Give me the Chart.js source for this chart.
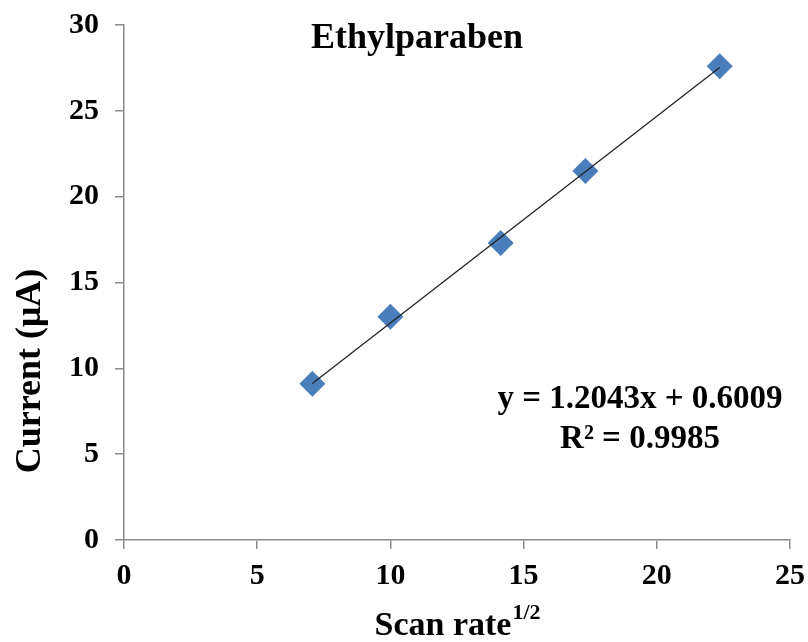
<!DOCTYPE html>
<html>
<head>
<meta charset="utf-8">
<script src="https://cdn.jsdelivr.net/npm/chart.js@4"></script>
<style>
  html, body { margin: 0; padding: 0; background: #fff; }
  #wrap { width: 808px; height: 642px; }
</style>
</head>
<body>
<div id="wrap"><canvas id="chart" width="808" height="642"></canvas></div>
<script>
// square root of scan rate vs. peak current
const scanRootX = [7.07, 10.0, 14.14, 17.32, 22.36];
const currentY = [9.1, 13.0, 17.3, 21.5, 27.6];

// least-squares fit as printed on the chart
const fitSlope = 1.2043;
const fitIntercept = 0.6009;
const fitR2 = 0.9985;

const xTicks = [0, 5, 10, 15, 20, 25];
const yTicks = [0, 5, 10, 15, 20, 25, 30];

const serif = "'Liberation Serif', 'Times New Roman', serif";
const axisGray = '#8a8a8a';

const points = scanRootX.map((x, i) => ({ x, y: currentY[i] }));
const xMin = Math.min(...scanRootX), xMax = Math.max(...scanRootX);
const fitLine = [xMin, xMax].map(x => ({ x, y: fitSlope * x + fitIntercept }));

const textPlugin = {
  id: 'labels',
  afterDraw(chart) {
    const { ctx, chartArea: a } = chart;
    ctx.save();
    ctx.fillStyle = '#000';
    ctx.textAlign = 'center';
    ctx.textBaseline = 'alphabetic';

    // chart title
    ctx.font = `bold 36px ${serif}`;
    ctx.fillText('Ethylparaben', 417, 48);

    // fit equation
    ctx.font = `bold 33px ${serif}`;
    ctx.fillText(`y = ${fitSlope}x + ${fitIntercept}`, 640, 408);
    ctx.fillText(`R² = ${fitR2}`, 640, 448);

    // x axis title with superscript
    ctx.textAlign = 'left';
    const main = 'Scan rate';
    ctx.font = `bold 34px ${serif}`;
    const wMain = ctx.measureText(main).width;
    ctx.font = `bold 22px ${serif}`;
    const wSup = ctx.measureText('1/2').width;
    const x0 = (a.left + a.right) / 2 - (wMain + wSup) / 2;
    ctx.font = `bold 34px ${serif}`;
    ctx.fillText(main, x0, 635);
    ctx.font = `bold 22px ${serif}`;
    ctx.fillText('1/2', x0 + wMain + 1, 619);

    // y axis title
    ctx.translate(40, 371);
    ctx.rotate(-Math.PI / 2);
    ctx.textAlign = 'center';
    ctx.font = `bold 36px ${serif}`;
    ctx.fillText('Current (μA)', 0, 0);
    ctx.restore();
  }
};

new Chart(document.getElementById('chart'), {
  type: 'scatter',
  data: {
    datasets: [
      {
        type: 'line',
        label: 'Linear fit',
        data: fitLine,
        borderColor: '#222',
        borderWidth: 1.3,
        pointRadius: 0,
        fill: false,
        order: 0,
      },
      {
        label: 'Ethylparaben',
        data: points,
        pointStyle: 'rectRot',
        pointRadius: 13,
        pointHoverRadius: 13,
        backgroundColor: '#4a7ebb',
        borderColor: '#4a7ebb',
        borderWidth: 0,
        order: 1,
      },
    ],
  },
  options: {
    responsive: false,
    animation: false,
    layout: { padding: { left: 0, right: 18, top: 25, bottom: 0 } },
    plugins: {
      legend: { display: false },
      tooltip: { enabled: false },
      title: { display: false },
    },
    scales: {
      x: {
        type: 'linear',
        min: 0,
        max: 25,
        afterBuildTicks: s => { s.ticks = xTicks.map(v => ({ value: v })); },
        afterFit: s => { s.height = 102; s.paddingLeft = 0; s.paddingRight = 0; },
        border: { color: axisGray, width: 1.5 },
        grid: { drawOnChartArea: false, drawTicks: true, tickLength: 9, color: axisGray, lineWidth: 1.5 },
        ticks: { color: '#000', padding: 9, maxRotation: 0, font: { family: serif, size: 30, weight: 'bold' } },
      },
      y: {
        type: 'linear',
        min: 0,
        max: 30,
        afterBuildTicks: s => { s.ticks = yTicks.map(v => ({ value: v })); },
        afterFit: s => { s.width = 124; s.paddingTop = 0; s.paddingBottom = 0; },
        border: { color: axisGray, width: 1.5 },
        grid: { drawOnChartArea: false, drawTicks: true, tickLength: 9, color: axisGray, lineWidth: 1.5 },
        ticks: { color: '#000', padding: 16, font: { family: serif, size: 30, weight: 'bold' } },
      },
    },
  },
  plugins: [textPlugin],
});
</script>
</body>
</html>
